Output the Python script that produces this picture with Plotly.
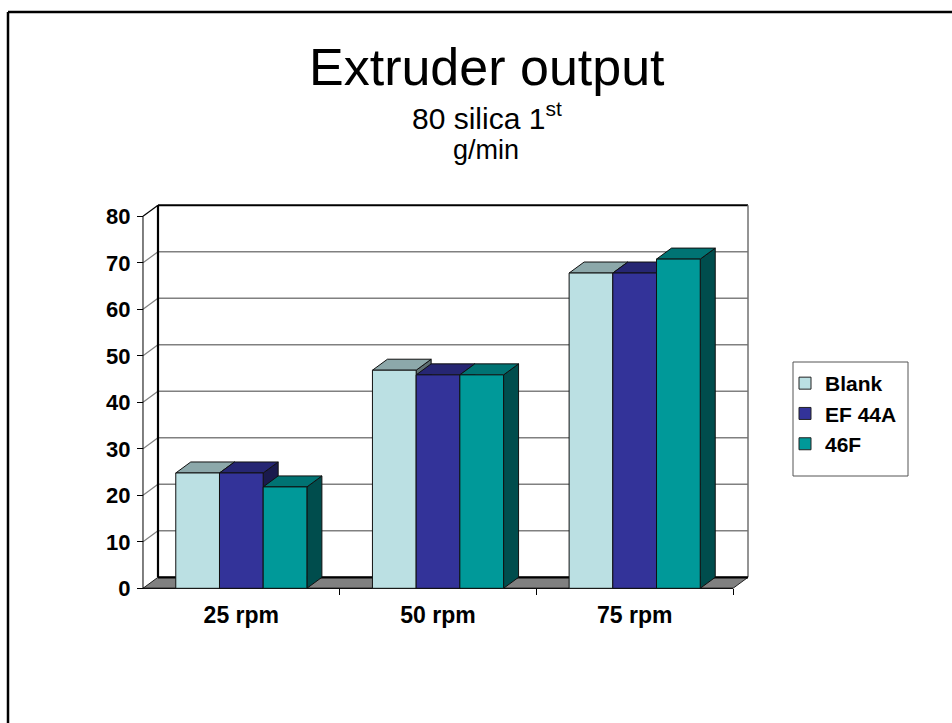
import plotly.graph_objects as go

# ---- data -------------------------------------------------------------
categories = ["25 rpm", "50 rpm", "75 rpm"]
series_names = ["Blank", "EF 44A", "46F"]
blank = [24.8, 46.9, 67.8]
ef_44a = [24.8, 45.9, 67.8]
f_46 = [21.8, 45.9, 70.8]
y_ticks = [0, 10, 20, 30, 40, 50, 60, 70, 80]

series_values = [blank, ef_44a, f_46]

# face colours: front, top (shaded), side (darker)
front_colors = ["#BBE0E3", "#333399", "#009999"]
top_colors = ["#8CA8AA", "#262673", "#007373"]
side_colors = ["#5E7072", "#1A1A4D", "#004D4D"]

FONT = "Arial, Liberation Sans, sans-serif"

# ---- geometry of the pseudo-3D box ------------------------------------
W, H = 952, 723
X0_PX, CAT_PX = 143.0, 196.67       # pixel of x=0, pixels per category
Y0_PX, UNIT_PX = 588.3, 4.65        # pixel of y=0, pixels per unit
DEPTH_X_PX, DEPTH_Y_PX = 15.0, 11.0  # oblique depth offset
DX = DEPTH_X_PX / CAT_PX
DY = DEPTH_Y_PX / UNIT_PX
YMAX = y_ticks[-1]
NCAT = len(categories)

x_range = [-0.05, NCAT + DX + 0.05]
y_range = [-1.0, YMAX + DY + 1.0]


def px_x(v):
    return X0_PX + v * CAT_PX


def px_y(v):
    return Y0_PX - v * UNIT_PX


x_domain = [px_x(x_range[0]) / W, px_x(x_range[1]) / W]
y_domain = [1 - px_y(y_range[0]) / H, 1 - px_y(y_range[1]) / H]

fig = go.Figure()


def poly(xs, ys, fill, line_color="#111111", line_width=1):
    fig.add_trace(go.Scatter(
        x=list(xs) + [xs[0]], y=list(ys) + [ys[0]],
        mode="lines", fill="toself", fillcolor=fill,
        line=dict(color=line_color, width=line_width),
        showlegend=False, hoverinfo="skip"))


def seg(xs, ys, color, width):
    fig.add_trace(go.Scatter(
        x=xs, y=ys, mode="lines", line=dict(color=color, width=width),
        showlegend=False, hoverinfo="skip"))


# floor
poly([0, NCAT, NCAT + DX, DX], [0, 0, DY, DY], "#808080", "#222222", 1)

# back-wall gridlines and their diagonals on the side wall
for v in y_ticks[1:-1]:
    seg([DX, NCAT + DX], [v + DY, v + DY], "#808080", 1.5)
    seg([0, DX], [v, v + DY], "#808080", 1.2)

# wall edges
seg([DX, NCAT + DX], [YMAX + DY, YMAX + DY], "#000000", 2)
seg([0, DX], [YMAX, YMAX + DY], "#000000", 1.2)
seg([NCAT + DX, NCAT + DX], [DY, YMAX + DY], "#707070", 1.5)
seg([DX, DX], [DY, YMAX + DY], "#000000", 2.2)
seg([DX, NCAT + DX], [DY, DY], "#000000", 2.2)
# front value axis and floor front edge
seg([0, 0], [0, YMAX], "#000000", 1)
seg([0, NCAT], [0, 0], "#000000", 1)

# columns: gap width 150% of a column
n_series = len(series_values)
bar_w = 1.0 / (n_series + 1.5)
for c in range(NCAT):
    start = c + 0.75 * bar_w
    for j, vals in enumerate(series_values):
        h = vals[c]
        x0 = start + j * bar_w
        x1 = x0 + bar_w
        # side face
        poly([x1, x1 + DX, x1 + DX, x1], [0, DY, h + DY, h], side_colors[j])
        # top face
        poly([x0, x1, x1 + DX, x0 + DX], [h, h, h + DY, h + DY], top_colors[j])
        # front face
        poly([x0, x1, x1, x0], [0, 0, h, h], front_colors[j])

# legend entries
for j, name in enumerate(series_names):
    fig.add_trace(go.Scatter(
        x=[None], y=[None], mode="markers", name=name,
        legendgroup=name,
        marker=dict(symbol="square", size=12, color=front_colors[j],
                    line=dict(color="#222222", width=1))))

fig.update_layout(
    width=W, height=H,
    margin=dict(l=0, r=0, t=0, b=0, autoexpand=False),
    paper_bgcolor="white", plot_bgcolor="rgba(0,0,0,0)",
    font=dict(family=FONT, color="black"),
    showlegend=True,
    legend=dict(
        x=(805 - 20) / W, xanchor="left",
        y=1 - 363 / H, yanchor="top",
        bgcolor="rgba(0,0,0,0)", borderwidth=0,
        font=dict(family=FONT, size=21, color="black", weight="bold"),
        tracegroupgap=0,
    ),
    xaxis=dict(
        domain=x_domain, range=x_range,
        anchor="free", position=1 - Y0_PX / H,
        showgrid=False, zeroline=False, showline=False,
        tickmode="array", tickvals=[c + 0.5 for c in range(NCAT)],
        ticktext=categories, ticks="",
        tickfont=dict(family=FONT, size=23, color="black", weight="bold"),
        ticklabelstandoff=11,
        minor=dict(tickmode="array", tickvals=list(range(1, NCAT + 1)),
                   ticks="outside", ticklen=6, tickcolor="#000000",
                   tickwidth=1, showgrid=False),
    ),
    yaxis=dict(
        domain=y_domain, range=y_range,
        anchor="free", position=X0_PX / W,
        showgrid=False, zeroline=False, showline=False,
        tickmode="array", tickvals=y_ticks,
        ticks="outside", ticklen=6, tickcolor="#000000", tickwidth=1,
        tickfont=dict(family=FONT, size=22, color="black", weight="bold"),
        ticklabelstandoff=2,
    ),
    annotations=[
        dict(text="Extruder output", x=487 / W, y=1 - 67 / H,
             xref="paper", yref="paper", xanchor="center", yanchor="middle",
             showarrow=False, font=dict(family=FONT, size=52)),
        dict(text="80 silica 1<sup>st</sup>", x=487 / W, y=1 - 116 / H,
             xref="paper", yref="paper", xanchor="center", yanchor="middle",
             showarrow=False, font=dict(family=FONT, size=30)),
        dict(text="g/min", x=486 / W, y=1 - 150 / H,
             xref="paper", yref="paper", xanchor="center", yanchor="middle",
             showarrow=False, font=dict(family=FONT, size=27)),
    ],
    shapes=[
        # legend frame
        dict(type="rect", xref="paper", yref="paper",
             x0=793 / W, x1=908 / W, y0=1 - 476 / H, y1=1 - 362 / H,
             line=dict(color="#555555", width=1), fillcolor="rgba(0,0,0,0)"),
        # slide frame (left and top edges)
        dict(type="line", xref="paper", yref="paper",
             x0=8 / W, x1=8 / W, y0=0, y1=1 - 12 / H,
             line=dict(color="#000000", width=2.5)),
        dict(type="line", xref="paper", yref="paper",
             x0=8 / W, x1=1, y0=1 - 12 / H, y1=1 - 12 / H,
             line=dict(color="#000000", width=2.5)),
    ],
)

fig.write_html("out.html")
